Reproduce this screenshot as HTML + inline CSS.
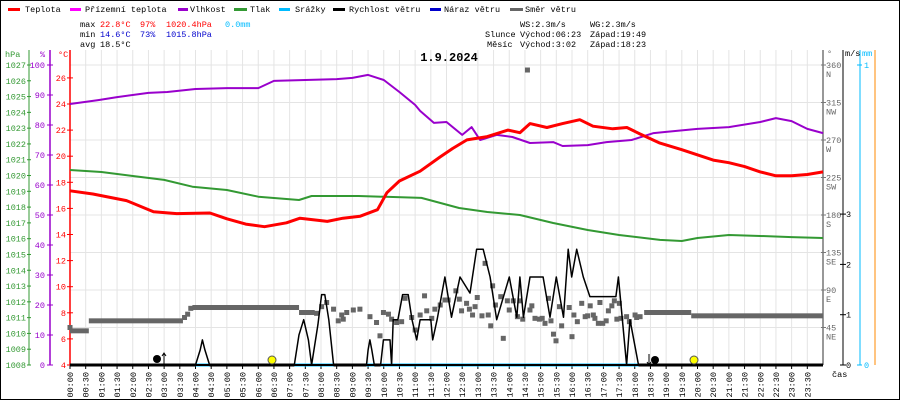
<!DOCTYPE html>
<html><head><meta charset="utf-8">
<style>
html,body{margin:0;padding:0;background:#fff;}
svg{display:block;font-family:"Liberation Mono",monospace;}
</style></head>
<body>
<svg id="chart" width="900" height="400" viewBox="0 0 900 400" xmlns="http://www.w3.org/2000/svg">
<rect x="0.5" y="0.5" width="899" height="399" fill="#fff" stroke="#000"/>
<g id="grid"></g>
<g id="legend" font-size="8.5">
 <rect x="8" y="8" width="12" height="3" fill="#f00"/><text x="25" y="12">Teplota</text>
 <rect x="70" y="8" width="11" height="3" fill="#f0f"/><text x="85" y="12">Přízemní teplota</text>
 <rect x="178" y="8" width="10" height="3" fill="#90c"/><text x="190" y="12">Vlhkost</text>
 <rect x="234" y="8" width="13" height="3" fill="#393"/><text x="250" y="12">Tlak</text>
 <rect x="279" y="8" width="11" height="3" fill="#0bf"/><text x="295" y="12">Srážky</text>
 <rect x="333" y="8" width="12" height="3" fill="#000"/><text x="349" y="12">Rychlost větru</text>
 <rect x="430" y="8" width="11" height="3" fill="#00c"/><text x="444" y="12">Náraz větru</text>
 <rect x="510" y="8" width="13" height="3" fill="#666"/><text x="525" y="12">Směr větru</text>
</g>
<g id="stats" font-size="8.5">
 <text x="80" y="27">max</text><text x="100" y="27" fill="#f00">22.8°C</text><text x="140" y="27" fill="#f00">97%</text><text x="166" y="27" fill="#f00">1020.4hPa</text><text x="225" y="27" fill="#0bf">0.0mm</text>
 <text x="80" y="37">min</text><text x="100" y="37" fill="#00c">14.6°C</text><text x="140" y="37" fill="#00c">73%</text><text x="166" y="37" fill="#00c">1015.8hPa</text>
 <text x="80" y="47">avg</text><text x="100" y="47">18.5°C</text>
 <text x="520" y="27">WS:2.3m/s</text><text x="590" y="27">WG:2.3m/s</text>
 <text x="485" y="37">Slunce</text><text x="520" y="37">Východ:06:23</text><text x="590" y="37">Západ:19:49</text>
 <text x="487" y="47">Měsíc</text><text x="520" y="47">Východ:3:02</text><text x="590" y="47">Západ:18:23</text>
</g>
<text x="449" y="61" font-size="12" font-weight="bold" text-anchor="middle">1.9.2024</text>
<g id="axes" font-size="8.5"></g>
<g id="series"></g>
</svg>
<script>
// ---- data ----
const tempTimes=[0,0.73,1.8,2.66,3.4,4.46,5,5.6,6.2,6.9,7.33,8.2,8.7,9.25,9.8,10.1,10.5,11.16,11.8,12.2,12.65,13.3,13.96,14.34,14.66,15.2,15.7,16.25,16.67,17.3,17.75,18.17,18.8,19.5,20.5,21,21.5,22,22.5,23,23.5,24];
const tempVals=[17.35,17.1,16.6,15.75,15.6,15.65,15.2,14.8,14.6,14.9,15.25,15.0,15.25,15.4,15.9,17.2,18.1,18.85,19.95,20.6,21.25,21.5,22,21.8,22.5,22.2,22.5,22.8,22.3,22.1,22.2,21.7,21.0,20.5,19.7,19.5,19.2,18.8,18.5,18.5,18.6,18.8];
const humTimes=[0,0.9,1.5,2.5,3.1,4,5,6,6.5,7.5,8.5,9,9.5,10,10.5,11,11.16,11.6,12,12.5,12.8,13.07,13.6,14.1,14.66,15.4,15.7,16.5,17.1,17.9,18.6,19,20,21,22,22.5,23,23.5,24];
const humVals=[87,88.3,89.3,90.7,91,92,92.3,92.3,94.7,95,95.3,95.7,96.7,95,91,86.7,84.7,80.7,81,76.7,79.3,75,76.7,76,74,74.3,73,73.3,74.3,75,77.3,77.7,78.7,79.3,81,82.3,81.3,78.7,77.3];
const presTimes=[0,1,2,3,3.9,5,6,7.3,7.7,9.2,11.2,12.4,13.3,14.34,15.4,16.5,17.5,18.8,19.5,20,21,22,23,24];
const presVals=[1020.35,1020.22,1019.97,1019.72,1019.29,1019.08,1018.66,1018.45,1018.7,1018.7,1018.58,1017.94,1017.69,1017.5,1016.99,1016.55,1016.23,1015.92,1015.85,1016.04,1016.23,1016.17,1016.1,1016.04];
const windTimes=[0,4.0,4.15,4.22,4.3,4.45,7.15,7.3,7.45,7.6,7.7,7.9,8.02,8.12,8.25,8.4,9.45,9.5,9.56,9.62,9.7,9.9,9.99,10.2,10.25,10.3,10.45,10.6,10.78,10.9,11.05,11.16,11.5,11.56,11.7,11.95,12.16,12.43,12.75,12.96,13.17,13.39,13.6,14.0,14.24,14.34,14.45,14.66,14.87,15.08,15.3,15.5,15.73,15.88,15.99,16.15,16.36,16.57,17.4,17.48,17.74,17.85,18.12,24];
const windVals=[0,0,0.3,0.5,0.3,0,0,0.6,0.9,0.5,0,0.8,1.4,1.4,0.9,0,0,0.3,0.5,0.3,0,0,0.5,0.5,0,0.9,0.9,1.4,1.4,0.9,0.5,0.9,0.9,0.5,0.9,1.75,0.95,1.75,1.43,2.3,2.3,1.75,0.9,1.75,0.95,1.75,0.95,1.75,1.75,1.75,0.95,1.75,0.95,2.3,1.75,2.3,1.75,1.36,1.36,1.75,0,0.9,0,0];
const rainTimes=[0,24];
const rainVals=[0,0];
const dirSegStart=[0,0.6,3.9,7.3,18.3,19.8];
const dirSegEnd=[0.6,3.6,7.3,7.8,19.8,24];
const dirSegVals=[41,53,69,63,63,59];
const dirTimes=[0,3.65,3.75,3.85,7.86,8.02,8.18,8.4,8.55,8.66,8.71,8.82,9.03,9.24,9.56,9.77,9.88,9.99,10.15,10.25,10.41,10.57,10.68,10.89,11.0,11.16,11.3,11.37,11.53,11.63,11.8,11.95,12.05,12.3,12.41,12.48,12.64,12.73,12.83,12.91,12.98,13.13,13.23,13.33,13.41,13.47,13.56,13.73,13.81,13.94,14.0,14.13,14.26,14.34,14.43,14.58,14.66,14.72,14.82,14.96,15.05,15.14,15.25,15.33,15.41,15.49,15.6,15.67,15.91,16.0,16.06,16.17,16.31,16.42,16.5,16.58,16.68,16.73,16.84,16.89,16.98,17.09,17.16,17.27,17.35,17.43,17.51,17.56,17.74,17.83,18.01,18.06,18.17];
const dirVals=[45,57,61,68,62,70,75,67,53,60,55,63,66,67,58,51,35,63,61,55,51,52,80,57,42,60,83,65,56,67,72,78,78,89,79,65,74,67,60,70,81,59,122,60,47,95,72,82,32,77,66,77,58,77,55,354,66,71,56,55,56,50,80,53,37,29,70,47,69,34,60,52,74,58,59,71,60,56,50,75,50,53,65,71,77,55,74,56,58,52,60,57,58];
const hpaTicks=[1008,1009,1010,1011,1012,1013,1014,1015,1016,1017,1018,1019,1020,1021,1022,1023,1024,1025,1026,1027];
const humTicks=[0,10,20,30,40,50,60,70,80,90,100];
const tempTicks=[4,6,8,10,12,14,16,18,20,22,24,26];
const dirTicks=[45,90,135,180,225,270,315,360];
const dirTickNames=['NE','E','SE','S','SW','W','NW','N'];
const windTicks=[0,1,2,3];
const timeLabels=['00:00','00:30','01:00','01:30','02:00','02:30','03:00','03:30','04:00','04:30','05:00','05:30','06:00','06:30','07:00','07:30','08:00','08:30','09:00','09:30','10:00','10:30','11:00','11:30','12:00','12:30','13:00','13:30','14:00','14:30','15:00','15:30','16:00','16:30','17:00','17:30','18:00','18:30','19:00','19:30','20:00','20:30','21:00','21:30','22:00','22:30','23:00','23:30'];
// ---- scales ----
const X0=70,X1=823,Y0=365;
const xS=t=>X0+t/24*(X1-X0);
const yT=v=>Y0-(v-4)*13.05;
const yH=v=>Y0-v*3;
const yP=v=>Y0-(v-1008)*15.79;
const yW=v=>Y0-v*50.3;
const yD=v=>Y0-v*0.8333;
const yR=v=>Y0-v*300;
const NS='http://www.w3.org/2000/svg';
function mk(tag,attrs,parent,txt){const e=document.createElementNS(NS,tag);for(const k in attrs)e.setAttribute(k,attrs[k]);if(txt!==undefined)e.textContent=txt;parent.appendChild(e);return e;}
const grid=document.getElementById('grid'),axes=document.getElementById('axes'),ser=document.getElementById('series');
// grid
timeLabels.forEach((l,i)=>{const x=xS(i*0.5);
 const g=mk('line',{x1:x,x2:x,y1:50,y2:Y0,stroke:'#e4e4e4'},grid);
 
 
 mk('line',{x1:x,x2:x,y1:Y0,y2:Y0+4,stroke:'#000'},axes);
 const t=mk('text',{x:0,y:0,transform:`translate(${x+3},372) rotate(-90)`,'text-anchor':'end'},axes,l);
 
 
});
dirTicks.forEach(d=>{const y=yD(d);
 const g=mk('line',{x1:X0,x2:X1,y1:y,y2:y,stroke:'#e4e4e4'},grid);
 
 });
// left axes
mk('line',{x1:29,x2:29,y1:50,y2:Y0,stroke:'#393'},axes);
mk('line',{x1:50,x2:50,y1:50,y2:Y0,stroke:'#90c','stroke-width':1.5},axes);
mk('line',{x1:70,x2:70,y1:50,y2:Y0,stroke:'#f00','stroke-width':1.5},axes);
mk('text',{x:5,y:57,fill:'#393'},axes,'hPa');
mk('text',{x:40,y:57,fill:'#90c'},axes,'%');
mk('text',{x:58,y:57,fill:'#f00'},axes,'°C');
hpaTicks.forEach(v=>{const y=yP(v);mk('line',{x1:27,x2:31,y1:y,y2:y,stroke:'#393'},axes);
 const t=mk('text',{x:26,y:y+3,fill:'#393','text-anchor':'end'},axes,v);
 
 });
humTicks.forEach(v=>{const y=yH(v);mk('line',{x1:47,x2:53,y1:y,y2:y,stroke:'#90c'},axes);
 const t=mk('text',{x:45,y:y+3,fill:'#90c','text-anchor':'end'},axes,v);
 
 });
tempTicks.forEach(v=>{const y=yT(v);mk('line',{x1:67,x2:73,y1:y,y2:y,stroke:'#f00'},axes);
 const t=mk('text',{x:66,y:y+3,fill:'#f00','text-anchor':'end'},axes,v);
 
 });
// right axes
mk('line',{x1:823,x2:823,y1:50,y2:Y0,stroke:'#777','stroke-width':1.5},axes);
mk('line',{x1:843,x2:843,y1:50,y2:Y0,stroke:'#000'},axes);
mk('line',{x1:860,x2:860,y1:50,y2:Y0,stroke:'#0bf'},axes);
mk('line',{x1:875,x2:875,y1:50,y2:Y0,stroke:'#f80'},axes);
mk('text',{x:827,y:56,fill:'#666'},axes,'°');
mk('text',{x:845,y:56},axes,'m/s');
mk('text',{x:862,y:56,fill:'#0bf'},axes,'mm');
dirTicks.forEach((d,i)=>{const y=yD(d);mk('line',{x1:821,x2:826,y1:y,y2:y,stroke:'#777'},axes);
 const t=mk('text',{x:826,y:y+3,fill:'#666'},axes,d);
 
 
 mk('text',{x:826,y:y+12,fill:'#666'},axes,dirTickNames[i]);});
windTicks.forEach(v=>{const y=yW(v);mk('line',{x1:840,x2:846,y1:y,y2:y,stroke:'#000'},axes);
 const t=mk('text',{x:846,y:y+3},axes,v);
 
 });
[0,1].forEach(v=>{const y=yR(v);mk('line',{x1:857,x2:862,y1:y,y2:y,stroke:'#0bf'},axes);
 mk('text',{x:864,y:y+3,fill:'#0bf'},axes,v);});
mk('text',{x:832,y:377},axes,'čas');
// series
function line(ts,vs,ys,color,w,name){const p=ts.map((t,i)=>xS(t).toFixed(1)+','+ys(vs[i]).toFixed(1)).join(' ');
 const e=mk('polyline',{points:p,fill:'none',stroke:color,'stroke-width':w,'stroke-linejoin':'round'},ser);
 
 }
line(presTimes,presVals,yP,'#393',2,'pressure-line');
line(humTimes,humVals,yH,'#90c',2,'humidity-line');
line(tempTimes,tempVals,yT,'#f00',3,'temperature-line');
// direction
dirSegStart.forEach((s,i)=>{const r=mk('rect',{x:xS(s),y:yD(dirSegVals[i])-2.5,width:xS(dirSegEnd[i])-xS(s),height:5,fill:'#666'},ser);
 
 });
dirTimes.forEach((t,i)=>{const r=mk('rect',{x:xS(t)-2.5,y:yD(dirVals[i])-2.5,width:5,height:5,fill:'#666'},ser);
 
 });
line(rainTimes,rainVals,yR,'#0bf',3,'precipitation-line');
mk('line',{x1:X0,x2:X1,y1:Y0,y2:Y0,stroke:'#000','stroke-width':2},ser);
line(windTimes,windVals,yW,'#000',1.5,'wind-speed-line');
// cover zero segments as black baseline (cyan visible only under raised wind)
windTimes.forEach((t,i)=>{if(i<windTimes.length-1&&windVals[i]===0&&windVals[i+1]===0){
 mk('line',{x1:xS(t),x2:xS(windTimes[i+1]),y1:Y0,y2:Y0,stroke:'#000','stroke-width':3},ser);}});
// sun/moon markers
const m1=mk('circle',{cx:157,cy:359,r:4,fill:'#000'},ser);


mk('path',{d:'M164 364 V354 M162 356 L164 353 L166 356',stroke:'#000',fill:'none'},ser);
const s1=mk('circle',{cx:272,cy:360,r:4,fill:'#ff0',stroke:'#555'},ser);


mk('path',{d:'M649 354 V364 M647 362 L649 365 L651 362',stroke:'#000',fill:'none'},ser);
const m2=mk('circle',{cx:655,cy:360,r:4,fill:'#000'},ser);


const s2=mk('circle',{cx:694,cy:360,r:4,fill:'#ff0',stroke:'#555'},ser);


</script>
</body></html>
